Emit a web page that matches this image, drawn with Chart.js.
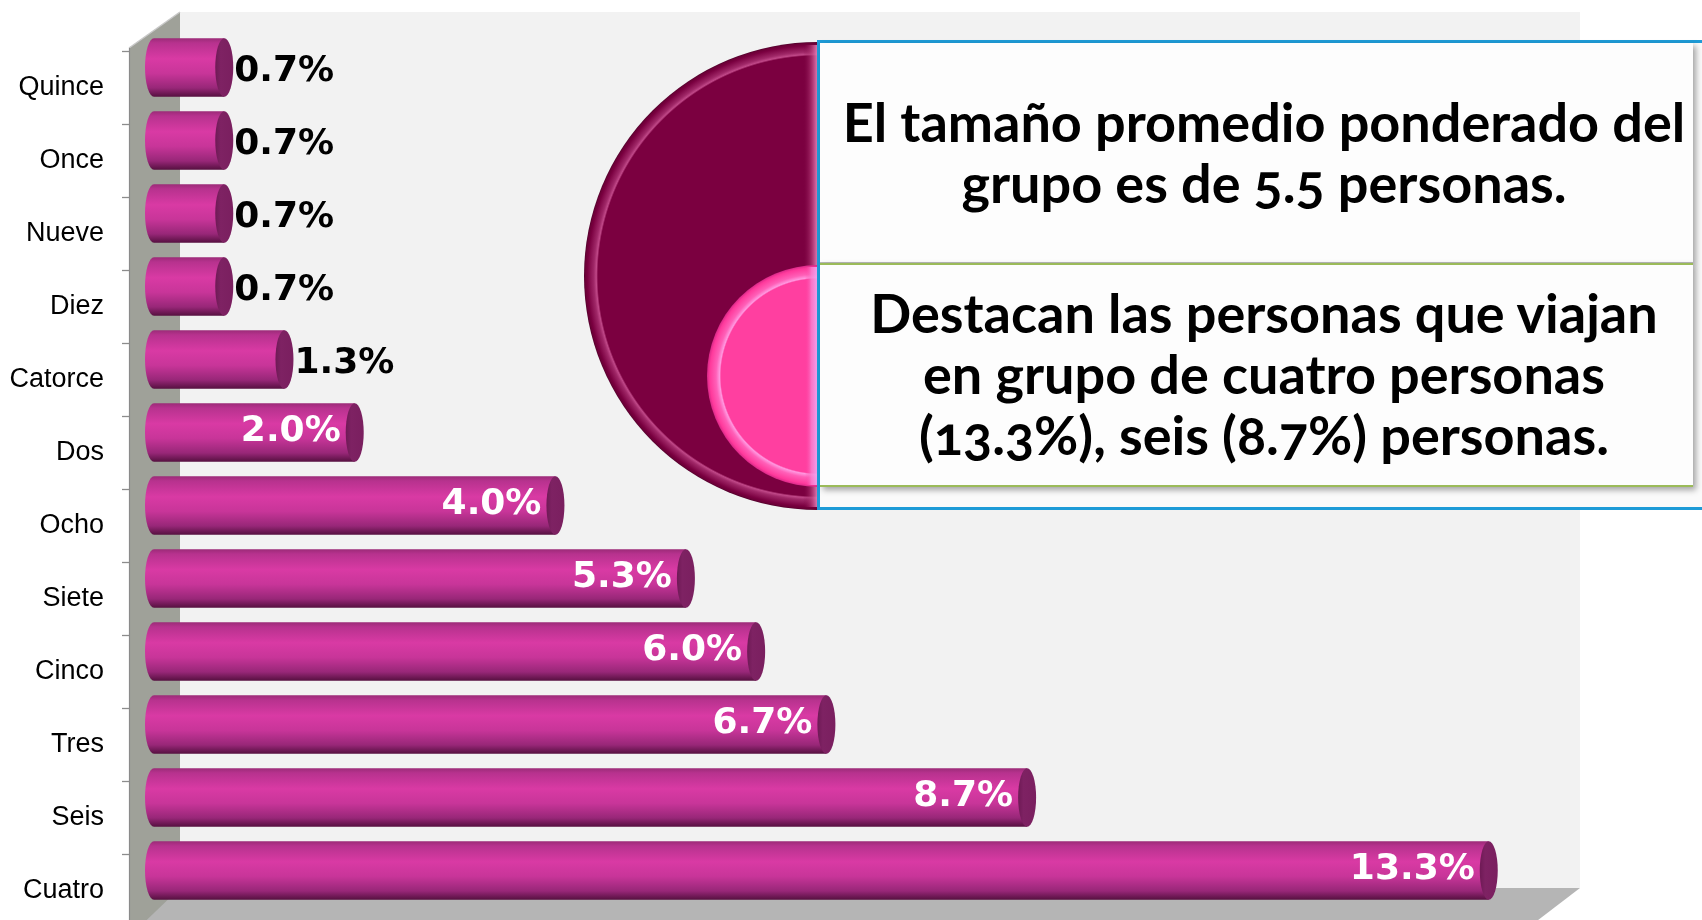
<!DOCTYPE html>
<html>
<head>
<meta charset="utf-8">
<script src="https://cdn.jsdelivr.net/npm/chart.js@4.4.1/dist/chart.umd.min.js"></script>
<style>
html,body{margin:0;padding:0;background:#fff;width:1702px;height:920px;overflow:hidden;}
#wrap{position:relative;width:1702px;height:920px;overflow:hidden;}
#c{position:absolute;left:0;top:0;}
#outer{position:absolute;left:817px;top:40px;width:900px;height:464px;border:3px solid #1e9bd7;border-right:none;background:#fafafa;}
.note{position:absolute;left:820px;width:873px;background:#fdfdfd;box-shadow:3px 3px 6px rgba(0,0,0,0.35);}
#b1{top:43px;height:219px;border-bottom:1px solid #b8b8b8;}
#b2{top:263px;height:220px;border-top:2px solid #9bbb59;border-bottom:2px solid #9bbb59;}
.txt{position:absolute;left:0;width:888px;text-align:center;font-family:Lato,"Open Sans",sans-serif;font-weight:bold;font-size:54px;line-height:61px;color:#000;white-space:nowrap;font-variant-numeric:oldstyle-nums;}
#t1{top:48px;}
#t2{top:17px;}
</style>
</head>
<body>
<div id="wrap">
<canvas id="c" width="1702" height="920"></canvas>
<div id="outer"></div>
<div id="b1" class="note"><div id="t1" class="txt"></div></div>
<div id="b2" class="note"><div id="t2" class="txt"></div></div>
</div>
<script>
// ---- data ----
const categories = ['Quince','Once','Nueve','Diez','Catorce','Dos','Ocho','Siete','Cinco','Tres','Seis','Cuatro'];
const values = [0.7,0.7,0.7,0.7,1.3,2.0,4.0,5.3,6.0,6.7,8.7,13.3];
const valueLabels = ['0.7%','0.7%','0.7%','0.7%','1.3%','2.0%','4.0%','5.3%','6.0%','6.7%','8.7%','13.3%'];
const axisMin = 0;
const axisMax = 14;
const note1Lines = ['El tamaño promedio ponderado del','grupo es de 5.5 personas.'];
const note2Lines = ['Destacan las personas que viajan','en grupo de cuatro personas','(13.3%), seis (8.7%) personas.'];

function esc(s){return s.replace(/&/g,'&amp;').replace(/</g,'&lt;');}
document.getElementById('t1').innerHTML = note1Lines.map(esc).join('<br>');
document.getElementById('t2').innerHTML = note2Lines.map(esc).join('<br>');

const CAP_RX = 9;
const FRONT = {dx:-25, dy:20};
const BACK = {dx:26, dy:-19};

function cylGradient(ctx, top, bot){
  const g = ctx.createLinearGradient(0, top, 0, bot);
  g.addColorStop(0, '#9c2b78');
  g.addColorStop(0.08, '#b7328e');
  g.addColorStop(0.35, '#d93aa4');
  g.addColorStop(0.6, '#c83599');
  g.addColorStop(0.85, '#982778');
  g.addColorStop(1, '#561040');
  return g;
}

function barBg(c){
  const chart = c.chart, ys = chart.scales && chart.scales.y;
  if(!ys || ys.height == null || c.dataIndex == null) return '#c8369a';
  const yc = ys.getPixelForValue(c.dataIndex);
  const h = Math.abs(ys.getPixelForValue(1) - ys.getPixelForValue(0)) * 0.8;
  return cylGradient(chart.ctx, yc - h/2, yc + h/2);
}

function halfDisc(ctx, cx, cy, r){
  ctx.beginPath();
  ctx.moveTo(cx, cy - r);
  ctx.arc(cx, cy, r, -Math.PI/2, Math.PI/2, true);
  ctx.closePath();
}

const scenePlugin = {
  id: 'scene3d',
  beforeDraw(chart){
    const ctx = chart.ctx, ca = chart.chartArea, ys = chart.scales.y;
    ctx.save();
    ctx.fillStyle = '#ffffff';
    ctx.fillRect(0,0,chart.width,chart.height);
    const L = ca.left, R = ca.right - 5, T = ca.top, B = ca.bottom;
    // back panel
    ctx.fillStyle = '#f2f2f2';
    ctx.fillRect(L + BACK.dx, T + BACK.dy, R - L, B - T);
    // floor
    ctx.fillStyle = '#b5b5b5';
    ctx.beginPath();
    ctx.moveTo(L + FRONT.dx, B + FRONT.dy);
    ctx.lineTo(L + BACK.dx, B + BACK.dy);
    ctx.lineTo(R + BACK.dx, B + BACK.dy);
    ctx.lineTo(R + FRONT.dx, B + FRONT.dy);
    ctx.closePath();
    ctx.fill();
    // left wall
    ctx.fillStyle = '#9fa199';
    ctx.beginPath();
    ctx.moveTo(L + FRONT.dx, T + FRONT.dy - 3);
    ctx.lineTo(L + BACK.dx, T + BACK.dy);
    ctx.lineTo(L + BACK.dx, B + BACK.dy);
    ctx.lineTo(L + FRONT.dx, B + FRONT.dy + 10);
    ctx.closePath();
    ctx.fill();
    ctx.strokeStyle = '#c8c8c8';
    ctx.lineWidth = 1.5;
    ctx.beginPath();
    ctx.moveTo(L + FRONT.dx, T + FRONT.dy - 3);
    ctx.lineTo(L + BACK.dx, T + BACK.dy);
    ctx.stroke();
    ctx.strokeStyle = '#8a8a8a';
    ctx.lineWidth = 1.2;
    ctx.beginPath();
    ctx.moveTo(L + FRONT.dx + 0.5, T + FRONT.dy - 3);
    ctx.lineTo(L + FRONT.dx + 0.5, chart.height);
    ctx.stroke();
    // tick marks on the front edge of the wall
    const step = ys.getPixelForValue(1) - ys.getPixelForValue(0);
    ctx.strokeStyle = '#8c8c8c';
    ctx.lineWidth = 1.3;
    for(let i = 0; i <= categories.length; i++){
      const y = Math.round(ys.getPixelForValue(i) - step/2 + FRONT.dy) + 0.5;
      ctx.beginPath();
      ctx.moveTo(L + FRONT.dx - 7, y);
      ctx.lineTo(L + FRONT.dx, y);
      ctx.stroke();
    }
    ctx.restore();
  },
  beforeDatasetsDraw(chart){
    const ctx = chart.ctx;
    const meta = chart.getDatasetMeta(0);
    ctx.save();
    meta.data.forEach(el => {
      const h = el.height, top = el.y - h/2;
      ctx.fillStyle = cylGradient(ctx, top, top + h);
      ctx.beginPath();
      ctx.ellipse(el.base, el.y, CAP_RX, h/2, 0, Math.PI/2, Math.PI*1.5, false);
      ctx.closePath();
      ctx.fill();
    });
    ctx.restore();
  },
  afterDatasetsDraw(chart){
    const ctx = chart.ctx;
    const meta = chart.getDatasetMeta(0);
    ctx.save();
    meta.data.forEach((el, i) => {
      const h = el.height;
      const g = ctx.createLinearGradient(el.x - CAP_RX, 0, el.x + CAP_RX, 0);
      g.addColorStop(0, '#6e1a55');
      g.addColorStop(0.3, '#7e2263');
      g.addColorStop(1, '#7a1f5f');
      ctx.fillStyle = g;
      ctx.beginPath();
      ctx.ellipse(el.x, el.y, CAP_RX, h/2, 0, 0, Math.PI*2);
      ctx.fill();
      ctx.font = 'bold 36px "DejaVu Sans", Verdana, sans-serif';
      ctx.textBaseline = 'middle';
      if(values[i] < 1.5){
        ctx.fillStyle = '#000000';
        ctx.textAlign = 'left';
        ctx.fillText(valueLabels[i], el.x + CAP_RX + 1, el.y + 4);
      } else {
        ctx.fillStyle = '#ffffff';
        ctx.textAlign = 'right';
        ctx.fillText(valueLabels[i], el.x - 14, el.y - 1);
      }
    });
    ctx.restore();
  },
  afterDraw(chart){
    const ctx = chart.ctx;
    ctx.save();
    // large half-disc with bevelled rim
    const cx = 818, cy = 276, r = 234;
    let rg = ctx.createRadialGradient(cx, cy, r - 14, cx, cy, r);
    rg.addColorStop(0, '#7b0040');
    rg.addColorStop(0.12, '#c04888');
    rg.addColorStop(0.3, '#a02868');
    rg.addColorStop(0.75, '#7a0040');
    rg.addColorStop(0.92, '#6a0036');
    rg.addColorStop(1, '#4e002a');
    ctx.fillStyle = rg;
    halfDisc(ctx, cx, cy, r); ctx.fill();
    ctx.fillStyle = '#7b0040';
    halfDisc(ctx, cx, cy, r - 14); ctx.fill();
    let gs = ctx.createLinearGradient(cx - 15, 0, cx, 0);
    gs.addColorStop(0, 'rgba(123,0,64,0)');
    gs.addColorStop(0.6, 'rgba(190,70,130,0.7)');
    gs.addColorStop(1, 'rgba(235,140,195,0.95)');
    ctx.fillStyle = gs;
    ctx.fillRect(cx - 15, cy - r + 3, 15, 2*r - 6);
    // small half-disc
    const sy = 376, sr = 111;
    rg = ctx.createRadialGradient(cx, sy, sr - 14, cx, sy, sr);
    rg.addColorStop(0, '#ff40a0');
    rg.addColorStop(0.1, '#ff98e0');
    rg.addColorStop(0.35, '#ff60b8');
    rg.addColorStop(0.8, '#ff3a9c');
    rg.addColorStop(1, '#d82888');
    ctx.fillStyle = rg;
    halfDisc(ctx, cx, sy, sr); ctx.fill();
    ctx.fillStyle = '#ff3fa0';
    halfDisc(ctx, cx, sy, sr - 14); ctx.fill();
    gs = ctx.createLinearGradient(cx - 13, 0, cx, 0);
    gs.addColorStop(0, 'rgba(255,63,160,0)');
    gs.addColorStop(0.5, 'rgba(250,130,210,0.8)');
    gs.addColorStop(1, 'rgba(240,170,245,0.95)');
    ctx.fillStyle = gs;
    ctx.fillRect(cx - 13, sy - sr + 2, 13, 2*sr - 4);
    ctx.restore();
  }
};

new Chart(document.getElementById('c'), {
  type: 'bar',
  data: {
    labels: categories,
    datasets: [{
      data: values,
      backgroundColor: barBg,
      borderWidth: 0,
      barPercentage: 0.8,
      categoryPercentage: 1.0
    }]
  },
  options: {
    indexAxis: 'y',
    responsive: false,
    animation: false,
    events: [],
    layout: { padding: { left: 0, right: 143, top: 31, bottom: 13 } },
    plugins: { legend: { display: false }, tooltip: { enabled: false } },
    scales: {
      x: { display: false, min: axisMin, max: axisMax },
      y: {
        grid: { display: false, drawTicks: true, tickLength: 48 },
        border: { display: false },
        ticks: {
          color: '#000000',
          font: { family: '"Liberation Sans", Arial, sans-serif', size: 27 },
          padding: 2,
          labelOffset: 20
        },
        afterFit(scale){ scale.width = 154; scale.paddingTop = 0; scale.paddingBottom = 0; }
      }
    }
  },
  plugins: [scenePlugin]
});
</script>
</body>
</html>
